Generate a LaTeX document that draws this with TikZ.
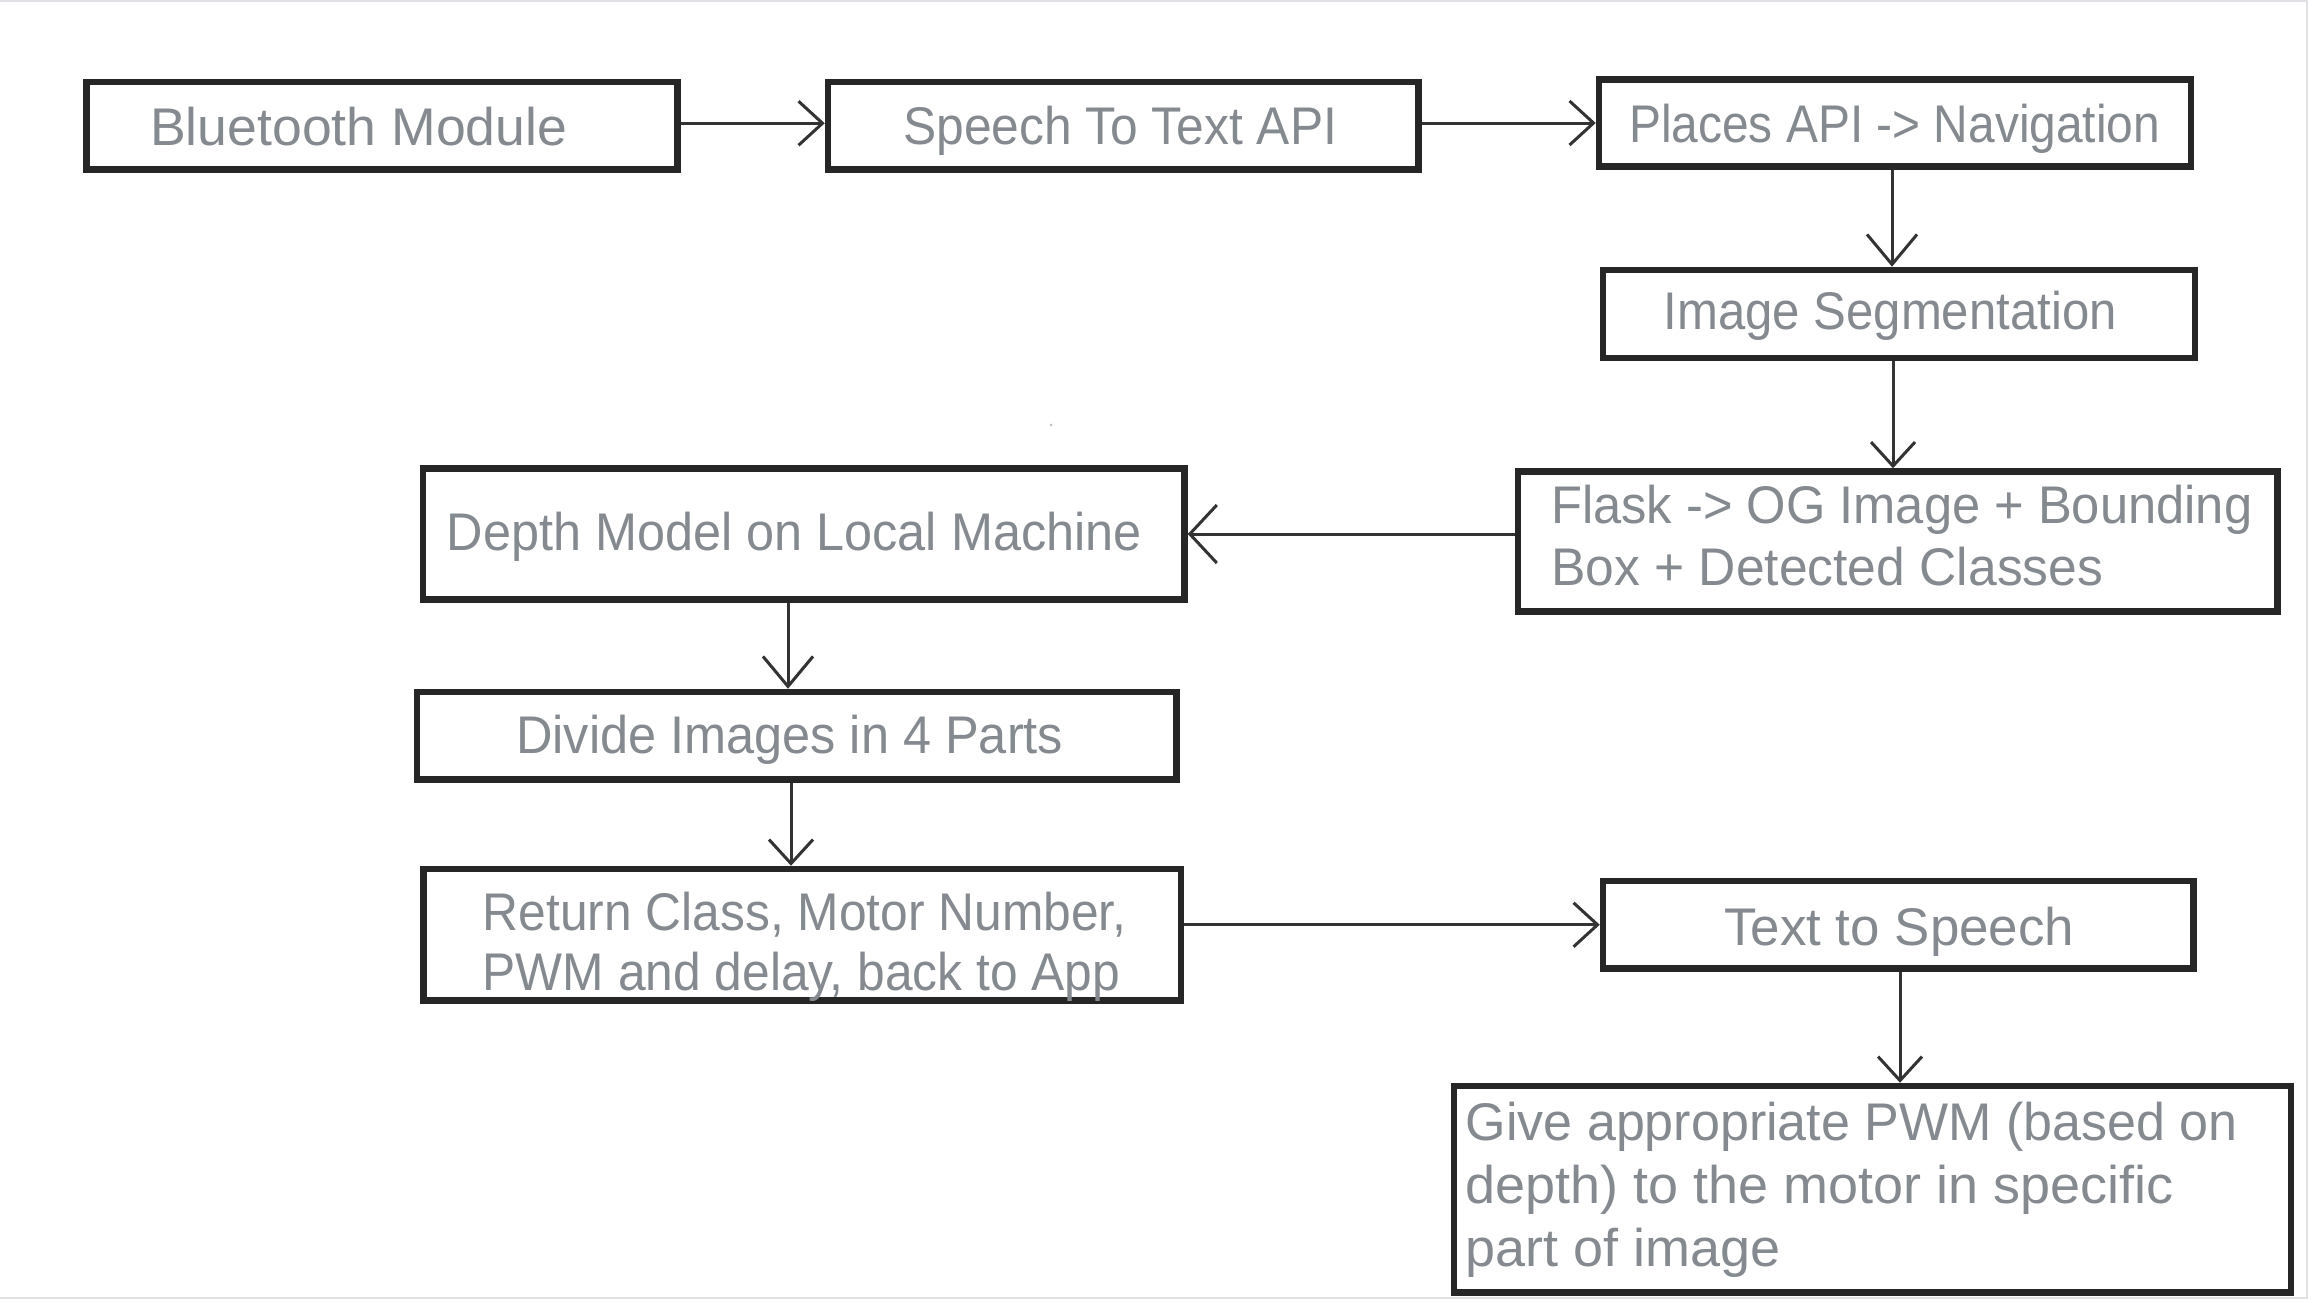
\documentclass[tikz,border=0pt]{standalone}
\usepackage{fontspec}
\usepackage{graphicx}
\setmainfont{Liberation Sans}
\usetikzlibrary{arrows.meta}
\definecolor{boxc}{HTML}{262626}
\definecolor{linec}{HTML}{333333}
\definecolor{txtc}{HTML}{848A8F}
\definecolor{framec}{HTML}{DFE1E4}
\newcommand\wfit[2]{\resizebox{#1}{\height}{#2}}
\begin{document}
\begin{tikzpicture}[x=1pt,y=-1pt,
  box/.style={draw=boxc, line width=6.5pt, rectangle, inner sep=0pt, fill=white},
  lbl/.style={text=txtc, inner sep=0pt, anchor=base west, font=\fontsize{53}{62}\selectfont},
  conn/.style={draw=linec, line width=3pt, -{Straight Barb[length=24pt,width=44pt]}}]
\useasboundingbox[fill=white] (0,0) rectangle (2312,1302);
% frame
\draw[framec, line width=2pt] (0,1) -- (2307,1) -- (2307,1298) -- (0,1298);
\fill[gray!50] (1051,425) circle (1.5pt);
% boxes
\node[box, minimum width=591pt,   minimum height=87.5pt]  (b1)  at (382,125.75) {};
\node[box, minimum width=590.5pt, minimum height=87.5pt]  (b2)  at (1123.25,125.75) {};
\node[box, minimum width=592pt,   minimum height=87pt]    (b3)  at (1895,123) {};
\node[box, minimum width=592pt,   minimum height=88pt]    (b4)  at (1899,314) {};
\node[box, minimum width=759.5pt, minimum height=140pt]   (b5)  at (1897.75,541.5) {};
\node[box, minimum width=761.5pt, minimum height=131pt]   (b6)  at (803.75,534) {};
\node[box, minimum width=759.5pt, minimum height=87.5pt]  (b7)  at (796.75,735.75) {};
\node[box, minimum width=757.5pt, minimum height=131.5pt] (b8)  at (802.25,934.75) {};
\node[box, minimum width=590.5pt, minimum height=87.5pt]  (b9)  at (1898.25,924.75) {};
\node[box, minimum width=837pt,   minimum height=206.5pt] (b10) at (1872.5,1189.25) {};
% texts
\node[lbl] (t1)  at (150,145)    {\wfit{417pt}{Bluetooth Module}};
\node[lbl] (t2)  at (903,144.5)  {\wfit{434pt}{Speech To Text API}};
\node[lbl] (t3)  at (1629,142)   {\wfit{531pt}{Places API -> Navigation}};
\node[lbl] (t4)  at (1663.5,329) {\wfit{453pt}{Image Segmentation}};
\node[lbl] (t5a) at (1551,523)   {\wfit{701pt}{Flask -> OG Image + Bounding}};
\node[lbl] (t5b) at (1551,585)   {\wfit{552pt}{Box + Detected Classes}};
\node[lbl] (t6)  at (446.5,550.7) {\wfit{695pt}{Depth Model on Local Machine}};
\node[lbl] (t7)  at (516,753.3)  {\wfit{547pt}{Divide Images in 4 Parts}};
\node[lbl] (t8a) at (482.5,930)  {\wfit{644pt}{Return Class, Motor Number,}};
\node[lbl] (t8b) at (482.5,990)  {\wfit{637.5pt}{PWM and delay, back to App}};
\node[lbl] (t9)  at (1724,945)   {\wfit{350pt}{Text to Speech}};
\node[lbl] (t10a) at (1465.5,1140) {\wfit{772pt}{Give appropriate PWM (based on}};
\node[lbl] (t10b) at (1465.5,1203) {\wfit{708pt}{depth) to the motor in specific}};
\node[lbl] (t10c) at (1465.5,1266) {\wfit{315pt}{part of image}};
% connectors
\draw[conn] ([yshift=2.5pt]b1.east) -- ([yshift=2.5pt]b2.west);
\draw[conn] (b2.east |- b3.west) -- (b3.west);
\draw[conn, -{Straight Barb[length=30pt,width=50pt]}] ([xshift=-3pt]b3.south) -- ([xshift=-3pt]b3.south |- b4.north);
\draw[conn] ([xshift=-6pt]b4.south) -- ([xshift=-6pt]b4.south |- b5.north);
\draw[conn, -{Straight Barb[length=27pt,width=58pt]}] (b5.west |- b6.east) -- (b6.east);
\draw[conn, -{Straight Barb[length=30pt,width=50pt]}] ([xshift=-15.75pt]b6.south) -- ([xshift=-15.75pt]b6.south |- b7.north);
\draw[conn] ([xshift=-5.75pt]b7.south) -- ([xshift=-5.75pt]b7.south |- b8.north);
\draw[conn] (b8.east |- b9.west) -- (b9.west);
\draw[conn] ([xshift=1.75pt]b9.south) -- ([xshift=1.75pt]b9.south |- b10.north);
\end{tikzpicture}
\end{document}
